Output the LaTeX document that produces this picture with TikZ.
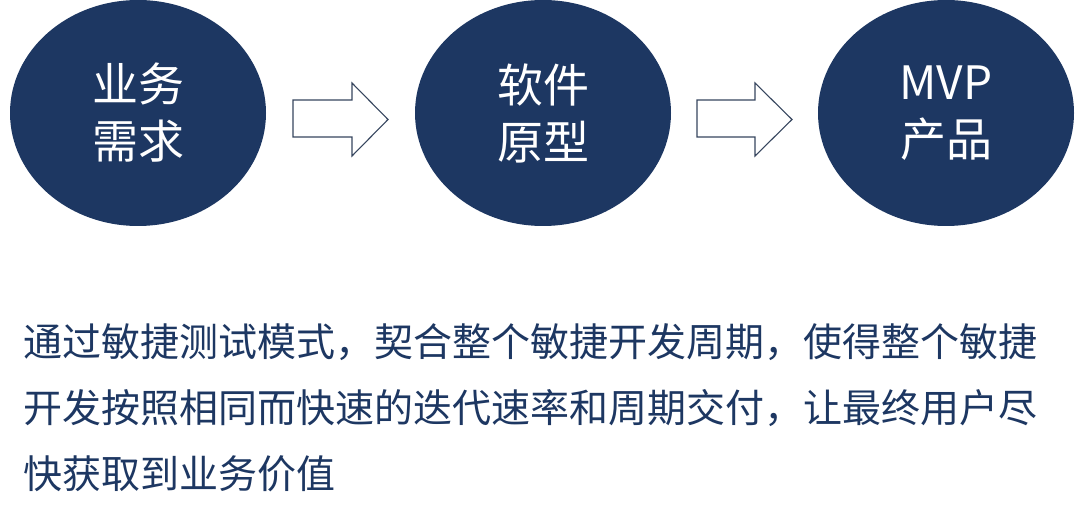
\documentclass[tikz,border=0pt]{standalone}
\usepackage{fontspec}
\setmainfont{Noto Sans CJK SC}
\usetikzlibrary{shapes.geometric}
\definecolor{navy}{RGB}{29,55,98}
\definecolor{arrline}{RGB}{55,70,95}
\begin{document}
\begin{tikzpicture}[x=1pt,y=-1pt,
  bubble/.style={ellipse, fill=navy, draw=none, minimum width=256pt, minimum height=226pt, inner sep=0pt,
    text=white, align=center, font=\fontsize{46}{57}\selectfont},
  blockarr/.style={draw=arrline, line width=1.1pt, fill=white, line join=miter},
  body/.style={anchor=base west, inner sep=0pt, text=navy, font=\fontsize{39}{62}\selectfont}]
\useasboundingbox (0,0) rectangle (1080,521);
\fill[white] (0,0) rectangle (1080,521);
\node[bubble] (n1) at (138,113) {业务\\需求};
\node[bubble] (n2) at (543,113) {软件\\原型};
\node[bubble] (n3) at (946,113) {MVP\\产品};
% block arrows
\draw[blockarr] (293,100) -- (352,100) -- (352,83) -- (388,119.5) -- (352,156) -- (352,137) -- (293,137) -- cycle;
\draw[blockarr] (697,100) -- (755,100) -- (755,83) -- (792,119.5) -- (755,156) -- (755,137) -- (697,137) -- cycle;
% description
\node[body] (l1) at (23,357) {通过敏捷测试模式，契合整个敏捷开发周期，使得整个敏捷};
\node[body] (l2) at (23,423) {开发按照相同而快速的迭代速率和周期交付，让最终用户尽};
\node[body] (l3) at (23,489) {快获取到业务价值};
\end{tikzpicture}
\end{document}
